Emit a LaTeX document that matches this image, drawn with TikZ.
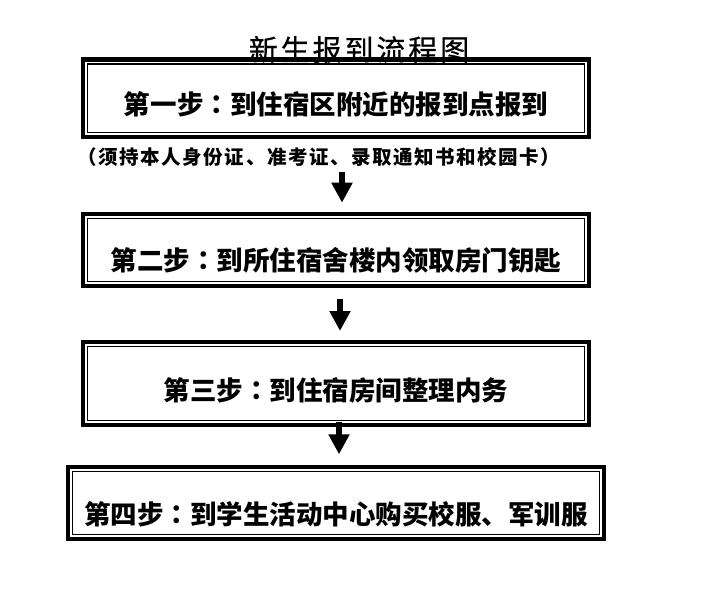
\documentclass[tikz,border=0pt]{standalone}
\usepackage{fontspec}
\setmainfont{Noto Sans CJK SC}
\newfontfamily\titlefont[LetterSpace=10, FakeBold=0.6]{Noto Sans CJK SC}
\newfontfamily\notefont[LetterSpace=8]{Noto Sans CJK SC}
\newfontfamily\punctfont{Noto Sans CJK TC}
\newcommand{\midcolon}{{\punctfont ：}}
\usetikzlibrary{arrows.meta, positioning}

\begin{document}
\begin{tikzpicture}[
  x=1bp, y=1bp,
  stepbox/.style={rectangle, draw, line width=4.3bp, inner sep=0pt, outer sep=0pt,
                  minimum width=506bp,
                  font=\fontsize{26.5bp}{30bp}\selectfont\bfseries,
                  path picture={\draw[line width=1.2bp]
                    ([shift={(4.5bp,-4.5bp)}]path picture bounding box.north west) rectangle
                    ([shift={(-4.5bp,4.5bp)}]path picture bounding box.south east);}},
  title/.style={inner sep=0pt, font=\titlefont\fontsize{29bp}{32bp}\selectfont},
  note/.style={inner sep=0pt, font=\notefont\fontsize{19.5bp}{22bp}\selectfont\bfseries},
  arr/.style={-{Triangle[width=20bp, length=20bp]}, line width=6bp},
]
\useasboundingbox (0,0) rectangle (720,-609);

% Steps
\node[stepbox, text height=55.5bp, text depth=22.3bp] (s1) at (336,-98.4)
  {第一步\midcolon 到住宿区附近的报到点报到};
\node[stepbox, text height=56.2bp, text depth=15.7bp, below=76.6bp of s1] (s2)
  {第二步\midcolon 到所住宿舍楼内领取房门钥匙};
\node[stepbox, text height=57.9bp, text depth=24.6bp, below=56.4bp of s2] (s3)
  {第三步\midcolon 到住宿房间整理内务};
\node[stepbox, text height=56.9bp, text depth=14.8bp, minimum width=535.8bp,
      below=42.5bp of s3] (s4)
  {第四步\midcolon 到学生活动中心购买校服、军训服};

% Title and note
\node[title] (head) at (359,-49.5) {新生报到流程图};
\node[note, below=10bp of s1, xshift=-17bp] (docs)
  {（须持本人身份证、准考证、录取通知书和校园卡）};

% Arrows
\draw[arr, shorten <=34.4bp, shorten >=11.2bp] ([xshift=6bp]s1.south) -- ([xshift=6bp]s2.north);
\draw[arr, shorten <=13.2bp, shorten >=11.2bp] ([xshift=4bp]s2.south) -- ([xshift=4bp]s3.north);
\draw[arr, shorten <=-3bp, shorten >=12.9bp] ([xshift=3bp]s3.south) -- ([xshift=3bp]s4.north);

\end{tikzpicture}
\end{document}
